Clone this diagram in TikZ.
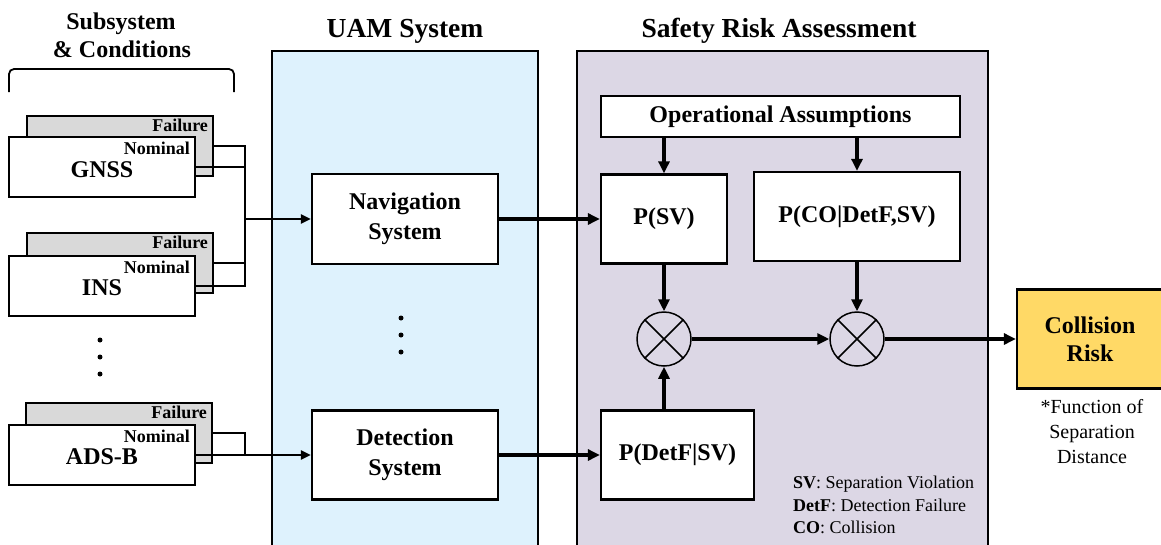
\documentclass[tikz,border=0pt]{standalone}
\usepackage{fontspec}
\setmainfont{Liberation Serif}
\usetikzlibrary{arrows.meta,calc}
\definecolor{uamblue}{HTML}{DEF2FD}
\definecolor{sralav}{HTML}{DCD7E5}
\definecolor{failgray}{HTML}{D9D9D9}
\definecolor{crgold}{HTML}{FFD966}
\begin{document}
\begin{tikzpicture}[x=1pt,y=-1pt,
  box/.style={draw, line width=2.3pt, fill=white, inner sep=0pt, align=center, font=\fontsize{24}{30}\selectfont\bfseries},
  subsys/.style={draw, line width=2.3pt, minimum width=186pt, minimum height=60pt, inner sep=0pt},
  failbox/.style={subsys, fill=failgray},
  nombox/.style={subsys, fill=white},
  cond/.style={font=\fontsize{18}{20}\selectfont\bfseries, inner sep=0pt, anchor=east},
  subname/.style={font=\fontsize{24}{28}\selectfont\bfseries, inner sep=0pt},
  title/.style={font=\fontsize{27.5}{30}\selectfont\bfseries, inner sep=0pt, anchor=base},
  subtitle/.style={font=\fontsize{24}{28}\selectfont\bfseries, inner sep=0pt, anchor=base},
  conn/.style={line width=2.3pt},
  thinarrow/.style={line width=2.3pt, -{Triangle[length=10pt,width=9pt]}},
  thickarrow/.style={line width=3.2pt, -{Triangle[length=12pt,width=11pt]}},
  mult/.style={draw, circle, line width=1.5pt, minimum size=54pt, inner sep=0pt},
  dot/.style={circle, fill=black, inner sep=0pt, minimum size=5pt},
]
\useasboundingbox (0,0) rectangle (1161,544);
\clip (0,0) rectangle (1161,544);

% titles
\node[subtitle] (t1a) at (121,29) {Subsystem};
\node[subtitle] (t1b) at (122,57) {\& Conditions};
\node[title] (t2) at (405,37) {UAM System};
\node[title] (t3) at (779,37) {Safety Risk Assessment};

% bracket
\draw[line width=1.8pt, rounded corners=5pt] (9,92) -- (9,69) -- (234,69) -- (234,92);

% background panels
\draw[line width=2.3pt, fill=uamblue] (272,51) rectangle (538,560);
\draw[line width=2.3pt, fill=sralav] (577,51) rectangle (988,560);

% subsystems
\node[failbox] (gf) at (120,146) {};
\node[nombox] (gn) at (102,167) {};
\node[cond] (gfl) at ($(gf.north east)+(-6,11)$) {Failure};
\node[cond] (gnl) at ($(gn.north east)+(-6,12)$) {Nominal};
\node[subname] (gname) at ($(gn.center)+(0,3)$) {GNSS};

\node[failbox] (if) at (120,263) {};
\node[nombox] (in) at (102,286) {};
\node[cond] (ifl) at ($(if.north east)+(-6,11)$) {Failure};
\node[cond] (inl) at ($(in.north east)+(-6,12)$) {Nominal};
\node[subname] (iname) at ($(in.center)+(0,2)$) {INS};

\node[failbox] (af) at (119,433) {};
\node[nombox] (an) at (102,455) {};
\node[cond] (afl) at ($(af.north east)+(-6,11)$) {Failure};
\node[cond] (anl) at ($(an.north east)+(-6,12)$) {Nominal};
\node[subname] (aname) at ($(an.center)+(0,2)$) {ADS-B};

% dots
\node[dot] (ld1) at (100,340) {};
\node[dot] (ld2) at (100,357) {};
\node[dot] (ld3) at (100,374) {};
\node[dot] (md1) at (401,318) {};
\node[dot] (md2) at (401,335) {};
\node[dot] (md3) at (401,352) {};

% UAM system boxes
\node[box, minimum width=186pt, minimum height=90pt] (nav) at (405,219) {Navigation\\System};
\node[box, minimum width=186pt, minimum height=89pt] (det) at (405,455) {Detection\\System};

% SRA boxes
\node[box, minimum width=359pt, minimum height=41pt] (oa) at (780.5,116.5) {Operational Assumptions};
\node[box, minimum width=126pt, minimum height=89pt] (psv) at (664,219) {P(SV)};
\node[box, minimum width=206pt, minimum height=89pt] (pco) at (857,216.5) {P(CO|DetF,SV)};
\node[box, minimum width=153pt, minimum height=89pt] (pd) at (677.5,455) {P(DetF|SV)};
\node[mult] (c1) at (664,339) {};
\node[mult] (c2) at (857,339) {};
\draw[line width=1.5pt] (c1.north west) -- (c1.south east) (c1.north east) -- (c1.south west);
\draw[line width=1.5pt] (c2.north west) -- (c2.south east) (c2.north east) -- (c2.south west);

% collision risk
\node[box, fill=crgold, minimum width=146pt, minimum height=99pt, font=\fontsize{24}{28}\selectfont\bfseries] (cr) at (1090,339) {Collision\\Risk};
\node[font=\fontsize{20}{25}\selectfont, align=center, inner sep=0pt] (fn) at (1092,432) {*Function of\\Separation\\Distance};

% legend
\node[font=\fontsize{18}{22.5}\selectfont, align=left, inner sep=0pt, anchor=west] (leg) at (793,505) {\textbf{SV}: Separation Violation\\\textbf{DetF}: Detection Failure\\\textbf{CO}: Collision};

% connectors (left)
\coordinate (j1) at (245,219);
\draw[conn] (gf.east) -| (j1);
\draw[conn] (gn.east) -| (j1);
\draw[conn] (if.east) -| (j1);
\draw[conn] (in.east) -| (j1);
\draw[thinarrow] (j1) -- (nav.west);
\coordinate (j2) at (245,455);
\draw[conn] (af.east) -| (j2);
\draw[thinarrow] (an.east) -- (det.west);

% connectors (main)
\draw[thickarrow] (nav.east) -- (psv.west);
\draw[thickarrow] (det.east) -- (pd.west);
\draw[thickarrow] (oa.south -| psv.north) -- (psv.north);
\draw[thickarrow] (oa.south -| pco.north) -- (pco.north);
\draw[thickarrow] (psv.south) -- (c1.north);
\draw[thickarrow] (pd.north -| c1.south) -- (c1.south);
\draw[thickarrow] (pco.south) -- (c2.north);
\draw[thickarrow] (c1.east) -- (c2.west);
\draw[thickarrow] (c2.east) -- (cr.west);
\end{tikzpicture}
\end{document}
